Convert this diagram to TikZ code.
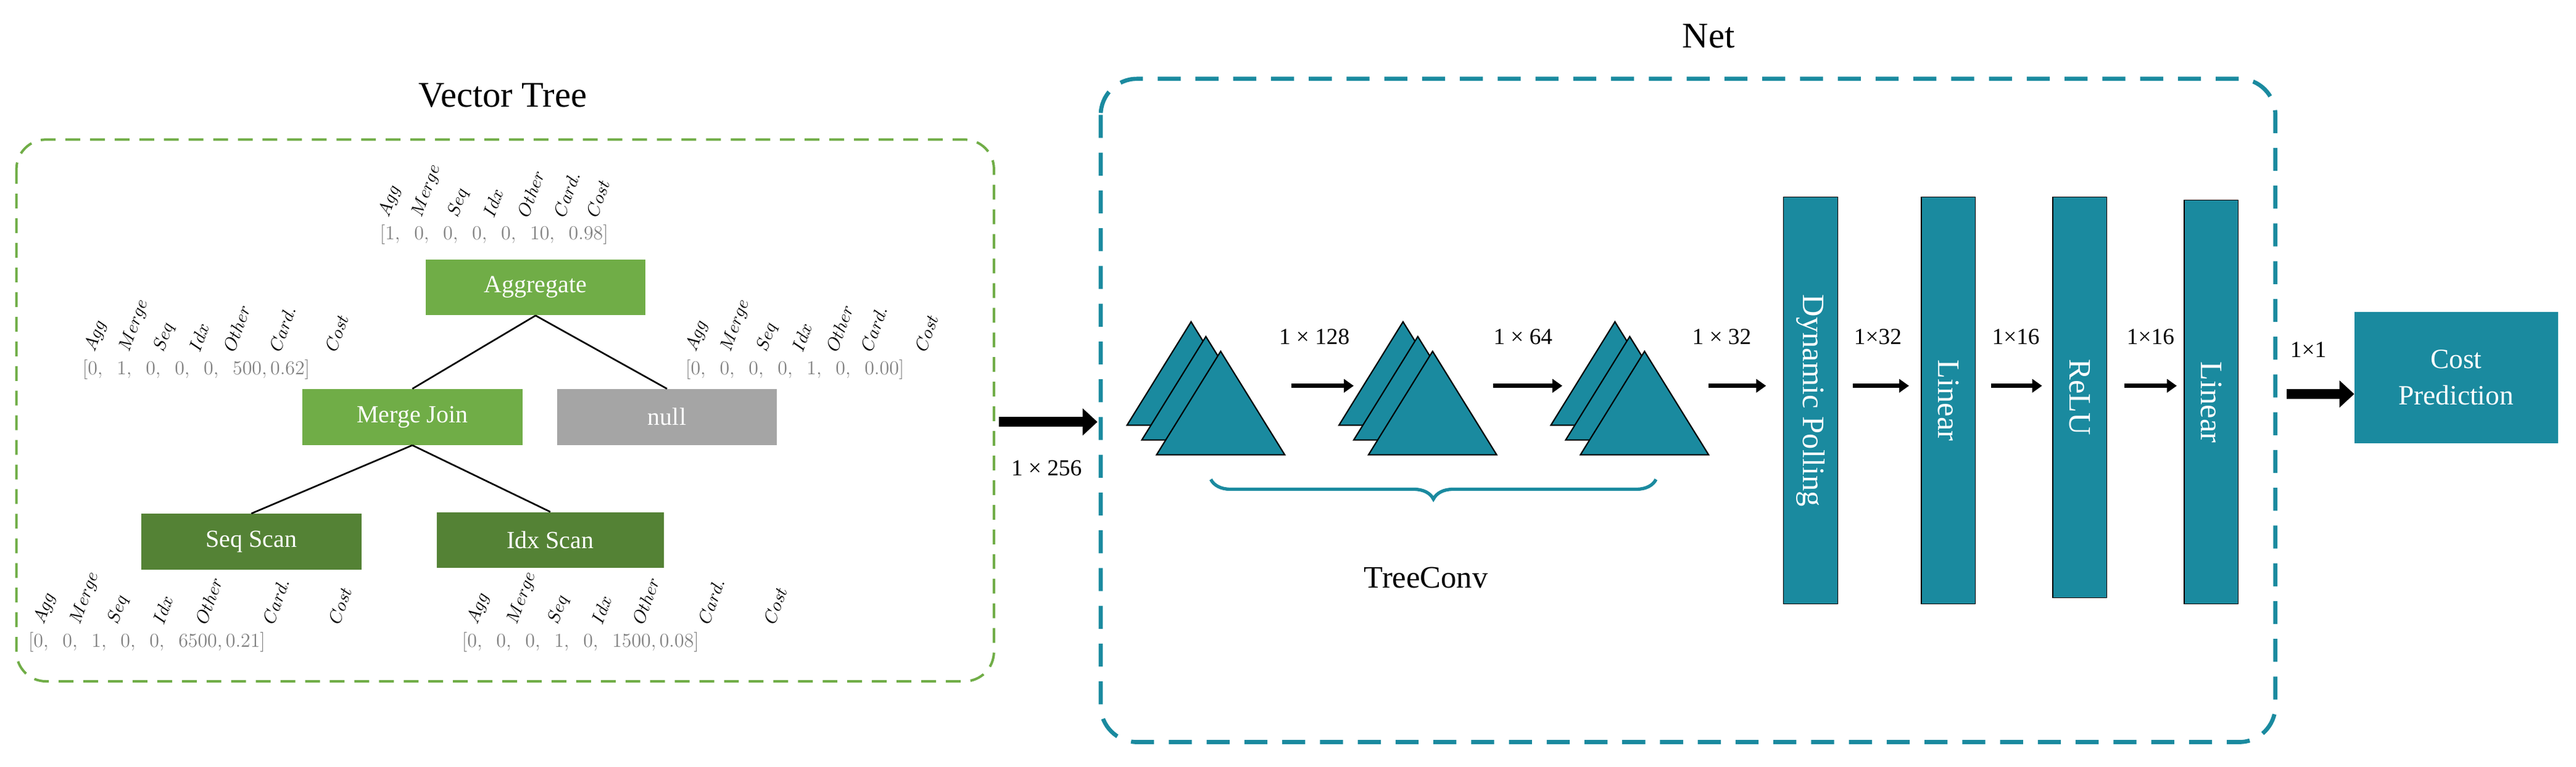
\documentclass[tikz,border=0pt]{standalone}
\usepackage{fontspec}
\setmainfont{Liberation Serif}
\usetikzlibrary{arrows.meta,decorations.pathreplacing}
\definecolor{lg}{HTML}{70AD47}
\definecolor{dg}{HTML}{548235}
\definecolor{gr}{HTML}{A5A5A5}
\definecolor{tl}{HTML}{1A8A9F}
\begin{document}
\begin{tikzpicture}[x=1pt,y=-1pt,
  op/.style={minimum width=134pt,minimum height=34pt,inner sep=0pt,text=white,font=\fontsize{15}{18}\selectfont},
  vec/.style={text=black!50,font=\fontsize{13}{15}\selectfont,inner sep=0pt},
  lab/.style={rotate=70,anchor=west,inner sep=0pt,font=\fontsize{10.5}{12}\selectfont},
  layer/.style={fill=tl,draw=black,minimum width=248pt,minimum height=33pt,inner sep=0pt,text=white,font=\fontsize{19}{22}\selectfont},
  arr/.style={-{Triangle[length=6pt,width=8pt]},line width=2.5pt},
  big/.style={-{Triangle[length=9pt,width=16pt]},line width=6pt},
  dim/.style={font=\fontsize{14}{16}\selectfont,inner sep=0pt},
  tri/.style={fill=tl,draw=black,line width=0.8pt}]
\useasboundingbox (0,0) rectangle (1568,467);
% Vector tree
\draw[lg,line width=1.5pt,dash pattern=on 9pt off 6pt,rounded corners=18pt] (10,85) rectangle (605,415);
\node[font=\fontsize{22}{26}\selectfont] (vt) at (306,58) {Vector Tree};
\node[op,fill=lg] (agg) at (326,175) {Aggregate};
\node[op,fill=lg] (mj) at (251,254) {Merge Join};
\node[op,fill=gr] (nl) at (406,254) {null};
\node[op,fill=dg] (ss) at (153,330) {Seq Scan};
\node[op,fill=dg,minimum width=138pt] (is) at (335,329) {Idx Scan};
\draw[line width=1pt] (agg.south) -- (mj.north);
\draw[line width=1pt] (agg.south) -- (nl.north);
\draw[line width=1pt] (mj.south) -- (ss.north);
\draw[line width=1pt] (mj.south) -- (is.north);
% vectors
\node[vec,anchor=west] (v1) at (231,143) {$[1,\ \ 0,\ \ 0,\ \ 0,\ \ 0,\ \ 10,\ \ 0.98]$};
\foreach \t/\x in {Agg/234,Merge/254,Seq/276,Idx/297,Other/318,Card./340,Cost/360}
  \node[lab] at (\x,132) {$\t$};
\node[vec,anchor=west] (v2) at (50,225) {$[0,\ \ 1,\ \ 0,\ \ 0,\ \ 0,\ \ 500,0.62]$};
\foreach \t/\x in {Agg/55,Merge/76,Seq/97,Idx/118,Other/139,Card./167,Cost/201}
  \node[lab] at (\x,214) {$\t$};
\node[vec,anchor=west] (v3) at (417,225) {$[0,\ \ 0,\ \ 0,\ \ 0,\ \ 1,\ \ 0,\ \ 0.00]$};
\foreach \t/\x in {Agg/421,Merge/442,Seq/464,Idx/485,Other/506,Card./527,Cost/560}
  \node[lab] at (\x,214) {$\t$};
\node[vec,anchor=west] (v4) at (17,391) {$[0,\ \ 0,\ \ 1,\ \ 0,\ \ 0,\ \ 6500,0.21]$};
\foreach \t/\x in {Agg/24,Merge/46,Seq/69,Idx/96,Other/122,Card./163,Cost/203}
  \node[lab] at (\x,380) {$\t$};
\node[vec,anchor=west] (v5) at (281,391) {$[0,\ \ 0,\ \ 0,\ \ 1,\ \ 0,\ \ 1500,0.08]$};
\foreach \t/\x in {Agg/288,Merge/312,Seq/337,Idx/363,Other/388,Card./428,Cost/468}
  \node[lab] at (\x,380) {$\t$};
% Net
\draw[tl,line width=2.5pt,dash pattern=on 14pt off 9pt,rounded corners=22pt] (670,48) rectangle (1385,452);
\node[font=\fontsize{22}{26}\selectfont] (net) at (1040,22) {Net};
\coordinate (in1) at (608,257); \coordinate (in2) at (668,257);
\draw[big] (in1) -- (in2);
\node[dim] (d256) at (637,285) {1 × 256};
% triangle stacks
\foreach \bx/\nm in {686/t1,815/t2,944/t3}{
  \foreach \k in {0,1,2}
    \draw[tri] ({\bx+\k*9+39},{196+\k*9}) -- ({\bx+\k*9+78},{259+\k*9}) -- ({\bx+\k*9},{259+\k*9}) -- cycle;
}
\draw[arr] (786,235) -- (824,235);
\node[dim] (d128) at (800,205) {1 × 128};
\draw[arr] (909,235) -- (951,235);
\node[dim] (d64) at (927,205) {1 × 64};
\draw[arr] (1040,235) -- (1075,235);
\node[dim] (d32) at (1048,205) {1 × 32};
\draw[tl,line width=2pt,decorate,decoration={brace,mirror,amplitude=12pt}] (737,292) -- (1008,292);
\node[font=\fontsize{19}{22}\selectfont] (tc) at (868,352) {TreeConv};
% layers
\node[layer,rotate=-90] (dp) at (1102,244) {Dynamic Polling};
\node[layer,rotate=-90] (l1) at (1186,244) {Linear};
\node[layer,rotate=-90,minimum width=244pt] (rl) at (1266,242) {ReLU};
\node[layer,rotate=-90,minimum width=246pt] (l2) at (1346,245) {Linear};
\draw[arr] (1128,235) -- (1162,235);
\draw[arr] (1212,235) -- (1243,235);
\draw[arr] (1293,235) -- (1325,235);
\node[dim] at (1143,205) {1×32};
\node[dim] at (1227,205) {1×16};
\node[dim] at (1309,205) {1×16};
\node[dim] at (1405,213) {1×1};
\node[fill=tl,minimum width=124pt,minimum height=80pt,text=white,align=center,font=\fontsize{17}{22}\selectfont] (cp) at (1495,230) {Cost\\Prediction};
\coordinate (cpin) at (1433,240);
\draw[big] (1392,240) -- (cpin);
\end{tikzpicture}
\end{document}
